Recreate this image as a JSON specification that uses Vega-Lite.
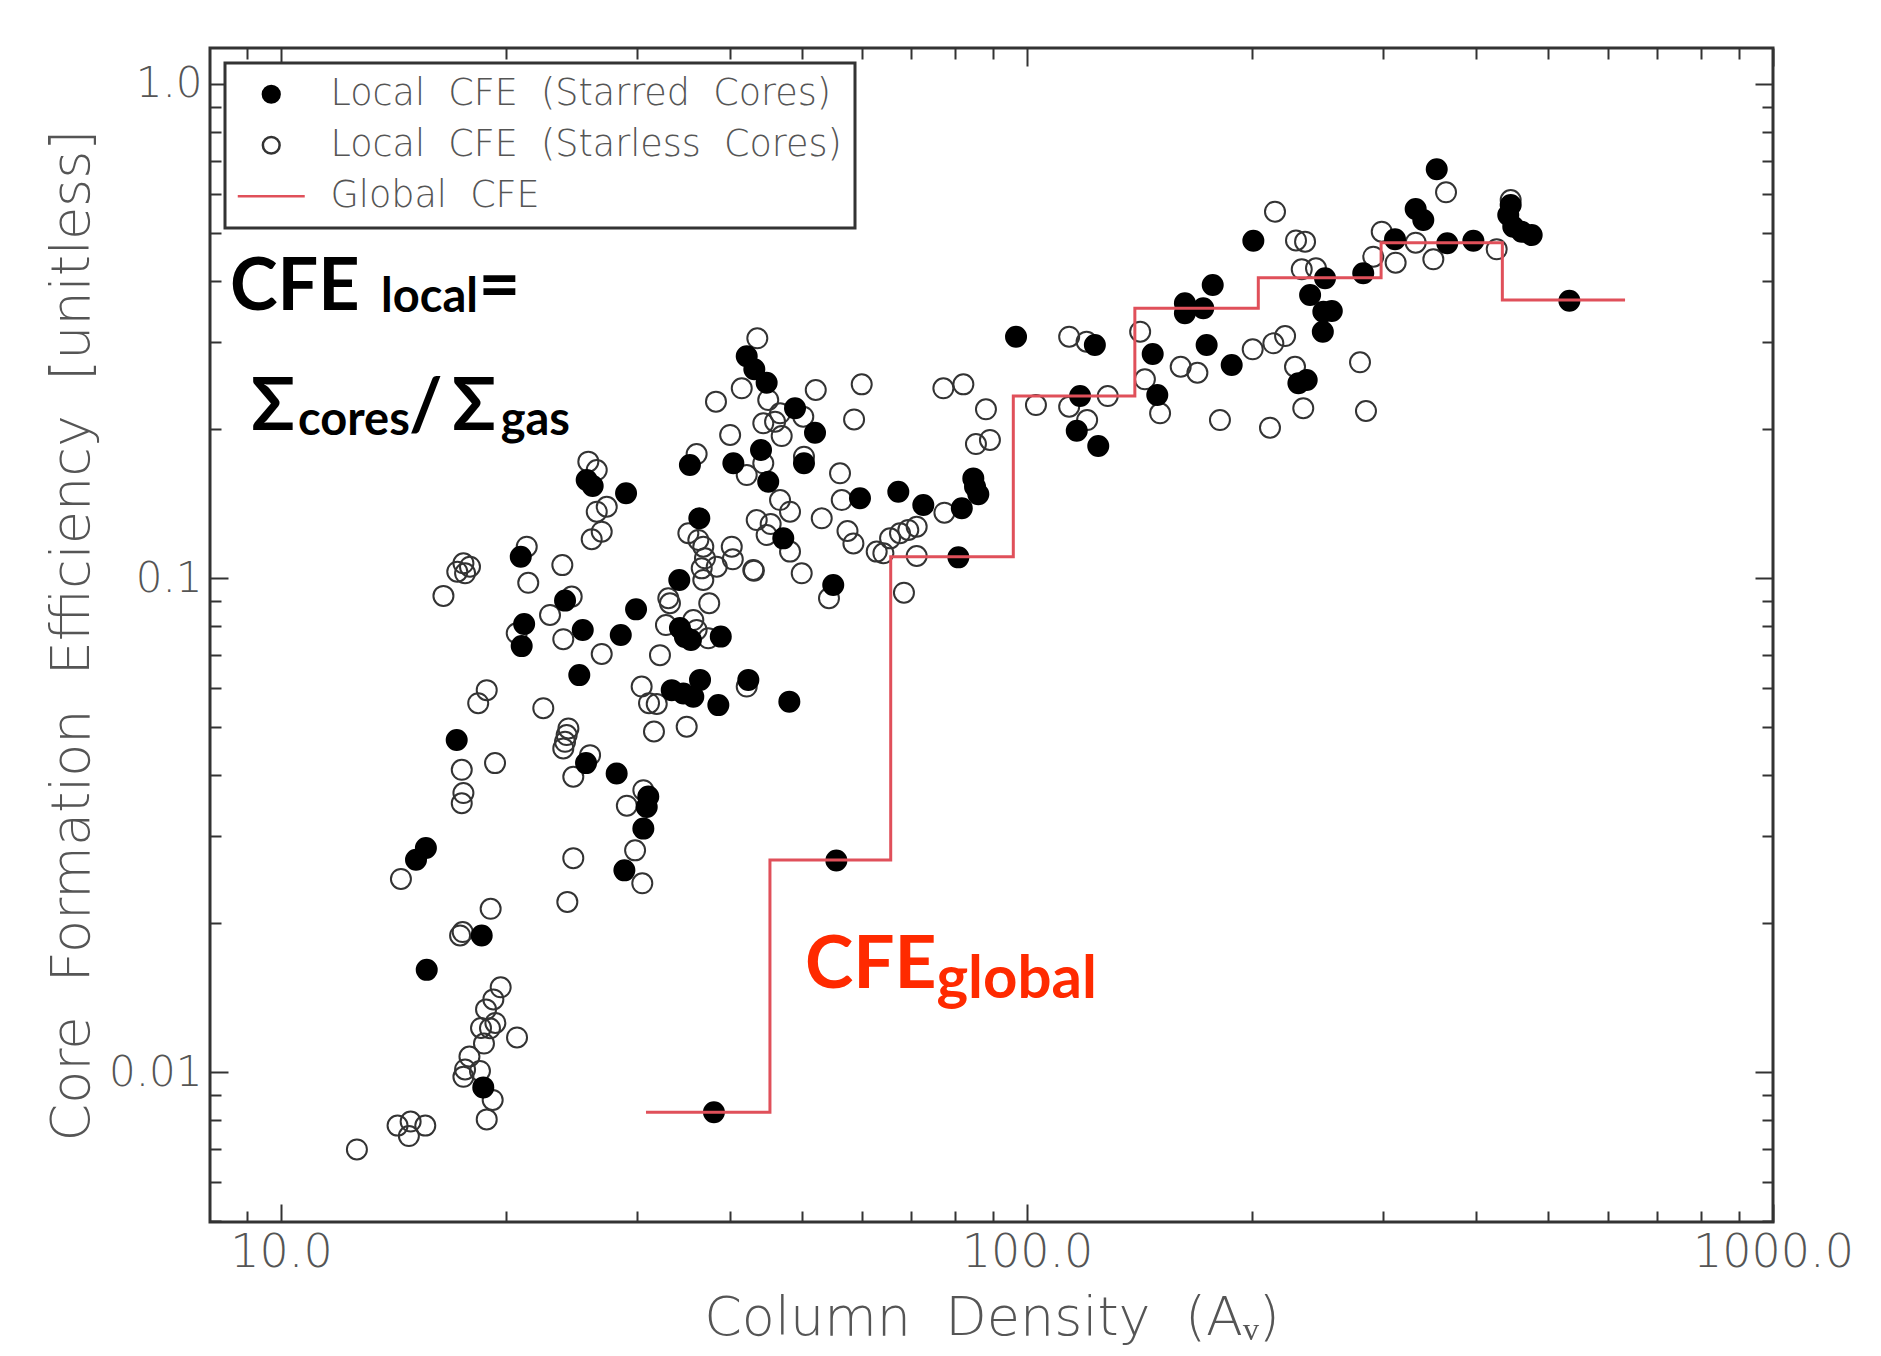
{
  "$schema": "https://vega.github.io/schema/vega-lite/v6.json",
  "width": 1563,
  "height": 1174,
  "autosize": {"type": "none"},
  "padding": {"left": 210, "top": 48, "right": 108, "bottom": 134},
  "background": "white",
  "config": {
    "view": {"stroke": "#333333", "strokeWidth": 3},
    "axis": {
      "domain": false, "grid": false,
      "tickColor": "#333333", "tickWidth": 2,
      "labelFont": "DejaVu Sans", "titleFont": "DejaVu Sans",
      "labelColor": "#555555", "titleColor": "#555555",
      "labelFontWeight": 300, "titleFontWeight": 300,
      "labelOverlap": false, "labelFlush": false, "labelBound": false
    },
    "legend": {
      "orient": "none", "legendX": 15, "legendY": 15,
      "padding": 13, "strokeColor": "#333333", "strokeWidth": 3, "fillColor": "white",
      "labelFont": "DejaVu Sans", "labelFontSize": 36.5, "labelColor": "#555555", "labelFontWeight": 300,
      "labelLimit": 2000, "symbolSize": 1122, "symbolStrokeWidth": 2.5,
      "symbolOffset": 15, "labelOffset": 41, "rowPadding": 14
    }
  },
  "datasets": {
    "cores": [
      {"av":12.64,"cfe":0.00697,"kind":"starless"},{"av":14.33,"cfe":0.00779,"kind":"starless"},{"av":14.92,"cfe":0.00794,"kind":"starless"},{"av":15.61,"cfe":0.00779,"kind":"starless"},{"av":14.84,"cfe":0.00742,"kind":"starless"},
      {"av":19.70,"cfe":0.01484,"kind":"starless"},{"av":19.26,"cfe":0.01403,"kind":"starless"},{"av":18.83,"cfe":0.01339,"kind":"starless"},{"av":19.38,"cfe":0.01257,"kind":"starless"},{"av":18.54,"cfe":0.01228,"kind":"starless"},
      {"av":19.06,"cfe":0.01226,"kind":"starless"},{"av":18.71,"cfe":0.01142,"kind":"starless"},{"av":17.89,"cfe":0.01075,"kind":"starless"},{"av":17.65,"cfe":0.01012,"kind":"starless"},{"av":17.56,"cfe":0.00978,"kind":"starless"},
      {"av":18.48,"cfe":0.01005,"kind":"starless"},{"av":19.22,"cfe":0.00878,"kind":"starless"},{"av":18.87,"cfe":0.00802,"kind":"starless"},{"av":20.72,"cfe":0.01175,"kind":"starless"},{"av":17.47,"cfe":0.0350,"kind":"starless"},
      {"av":29.08,"cfe":0.0346,"kind":"starless"},{"av":29.83,"cfe":0.0281,"kind":"starless"},{"av":30.50,"cfe":0.0241,"kind":"starless"},{"av":14.48,"cfe":0.0246,"kind":"starless"},{"av":24.65,"cfe":0.0271,"kind":"starless"},
      {"av":24.20,"cfe":0.0221,"kind":"starless"},{"av":19.10,"cfe":0.0214,"kind":"starless"},{"av":17.52,"cfe":0.0192,"kind":"starless"},{"av":17.38,"cfe":0.0189,"kind":"starless"},{"av":43.50,"cfe":0.3056,"kind":"starless"},
      {"av":41.46,"cfe":0.2421,"kind":"starless"},{"av":52.10,"cfe":0.2402,"kind":"starless"},{"av":38.29,"cfe":0.2275,"kind":"starless"},{"av":44.99,"cfe":0.2293,"kind":"starless"},{"av":46.66,"cfe":0.2155,"kind":"starless"},
      {"av":50.13,"cfe":0.2121,"kind":"starless"},{"av":44.31,"cfe":0.2057,"kind":"starless"},{"av":45.95,"cfe":0.2072,"kind":"starless"},{"av":58.64,"cfe":0.2094,"kind":"starless"},{"av":46.90,"cfe":0.1938,"kind":"starless"},
      {"av":40.0,"cfe":0.1948,"kind":"starless"},{"av":36.07,"cfe":0.1782,"kind":"starless"},{"av":50.24,"cfe":0.176,"kind":"starless"},{"av":44.31,"cfe":0.1707,"kind":"starless"},{"av":42.10,"cfe":0.1616,"kind":"starless"},
      {"av":56.15,"cfe":0.1629,"kind":"starless"},{"av":56.45,"cfe":0.1438,"kind":"starless"},{"av":46.66,"cfe":0.1438,"kind":"starless"},{"av":48.12,"cfe":0.1362,"kind":"starless"},{"av":53.07,"cfe":0.1321,"kind":"starless"},
      {"av":43.42,"cfe":0.131,"kind":"starless"},{"av":45.33,"cfe":0.1286,"kind":"starless"},{"av":44.77,"cfe":0.1222,"kind":"starless"},{"av":48.12,"cfe":0.1131,"kind":"starless"},{"av":57.46,"cfe":0.1245,"kind":"starless"},
      {"av":58.52,"cfe":0.1175,"kind":"starless"},{"av":43.05,"cfe":0.1035,"kind":"starless"},{"av":49.89,"cfe":0.1022,"kind":"starless"},{"av":54.27,"cfe":0.0910,"kind":"starless"},{"av":25.82,"cfe":0.172,"kind":"starless"},
      {"av":26.50,"cfe":0.1654,"kind":"starless"},{"av":27.33,"cfe":0.1394,"kind":"starless"},{"av":26.50,"cfe":0.1362,"kind":"starless"},{"av":26.91,"cfe":0.1241,"kind":"starless"},{"av":26.09,"cfe":0.1198,"kind":"starless"},
      {"av":21.35,"cfe":0.1157,"kind":"starless"},{"av":23.83,"cfe":0.1062,"kind":"starless"},{"av":17.56,"cfe":0.1071,"kind":"starless"},{"av":17.23,"cfe":0.103,"kind":"starless"},{"av":17.65,"cfe":0.1022,"kind":"starless"},
      {"av":17.92,"cfe":0.1054,"kind":"starless"},{"av":21.45,"cfe":0.0978,"kind":"starless"},{"av":16.51,"cfe":0.0920,"kind":"starless"},{"av":24.53,"cfe":0.0917,"kind":"starless"},{"av":22.94,"cfe":0.0842,"kind":"starless"},
      {"av":20.70,"cfe":0.0773,"kind":"starless"},{"av":23.90,"cfe":0.0752,"kind":"starless"},{"av":26.91,"cfe":0.0702,"kind":"starless"},{"av":35.16,"cfe":0.1232,"kind":"starless"},{"av":36.26,"cfe":0.1194,"kind":"starless"},
      {"av":36.82,"cfe":0.1157,"kind":"starless"},{"av":40.20,"cfe":0.1157,"kind":"starless"},{"av":37.01,"cfe":0.1096,"kind":"starless"},{"av":40.33,"cfe":0.1091,"kind":"starless"},{"av":38.38,"cfe":0.1054,"kind":"starless"},
      {"av":36.64,"cfe":0.1046,"kind":"starless"},{"av":36.82,"cfe":0.0991,"kind":"starless"},{"av":42.96,"cfe":0.1038,"kind":"starless"},{"av":33.05,"cfe":0.0910,"kind":"starless"},{"av":33.22,"cfe":0.0889,"kind":"starless"},
      {"av":37.50,"cfe":0.0889,"kind":"starless"},{"av":32.81,"cfe":0.0803,"kind":"starless"},{"av":35.70,"cfe":0.0822,"kind":"starless"},{"av":36.07,"cfe":0.0785,"kind":"starless"},{"av":37.39,"cfe":0.0755,"kind":"starless"},
      {"av":32.21,"cfe":0.0698,"kind":"starless"},{"av":30.44,"cfe":0.0603,"kind":"starless"},{"av":31.14,"cfe":0.0558,"kind":"starless"},{"av":31.89,"cfe":0.0556,"kind":"starless"},{"av":34.98,"cfe":0.0500,"kind":"starless"},
      {"av":31.62,"cfe":0.0489,"kind":"starless"},{"av":42.10,"cfe":0.0603,"kind":"starless"},{"av":18.87,"cfe":0.0593,"kind":"starless"},{"av":18.38,"cfe":0.0558,"kind":"starless"},{"av":22.47,"cfe":0.0545,"kind":"starless"},
      {"av":24.28,"cfe":0.0496,"kind":"starless"},{"av":24.15,"cfe":0.0481,"kind":"starless"},{"av":24.03,"cfe":0.0466,"kind":"starless"},{"av":23.90,"cfe":0.0452,"kind":"starless"},{"av":25.96,"cfe":0.0438,"kind":"starless"},
      {"av":24.65,"cfe":0.0396,"kind":"starless"},{"av":30.60,"cfe":0.0372,"kind":"starless"},{"av":17.47,"cfe":0.0409,"kind":"starless"},{"av":19.36,"cfe":0.0422,"kind":"starless"},{"av":17.56,"cfe":0.0367,"kind":"starless"},
      {"av":215.0,"cfe":0.5514,"kind":"starless"},{"av":229.4,"cfe":0.4822,"kind":"starless"},{"av":113.9,"cfe":0.3079,"kind":"starless"},{"av":120.2,"cfe":0.3008,"kind":"starless"},{"av":141.8,"cfe":0.3152,"kind":"starless"},
      {"av":200.7,"cfe":0.2904,"kind":"starless"},{"av":213.9,"cfe":0.2986,"kind":"starless"},{"av":221.8,"cfe":0.3089,"kind":"starless"},{"av":160.7,"cfe":0.2677,"kind":"starless"},{"av":169.2,"cfe":0.2603,"kind":"starless"},
      {"av":143.9,"cfe":0.2525,"kind":"starless"},{"av":150.8,"cfe":0.2155,"kind":"starless"},{"av":181.4,"cfe":0.2088,"kind":"starless"},{"av":211.7,"cfe":0.2015,"kind":"starless"},{"av":228.7,"cfe":0.2677,"kind":"starless"},
      {"av":234.6,"cfe":0.2206,"kind":"starless"},{"av":128.3,"cfe":0.2335,"kind":"starless"},{"av":113.9,"cfe":0.2222,"kind":"starless"},{"av":102.8,"cfe":0.2239,"kind":"starless"},{"av":120.4,"cfe":0.2088,"kind":"starless"},
      {"av":77.25,"cfe":0.2421,"kind":"starless"},{"av":82.17,"cfe":0.2466,"kind":"starless"},{"av":88.10,"cfe":0.2195,"kind":"starless"},{"av":89.19,"cfe":0.1903,"kind":"starless"},{"av":85.42,"cfe":0.1867,"kind":"starless"},
      {"av":60.04,"cfe":0.2466,"kind":"starless"},{"av":77.50,"cfe":0.1356,"kind":"starless"},{"av":62.88,"cfe":0.1131,"kind":"starless"},{"av":64.19,"cfe":0.1122,"kind":"starless"},{"av":65.53,"cfe":0.1203,"kind":"starless"},
      {"av":67.57,"cfe":0.1232,"kind":"starless"},{"av":69.32,"cfe":0.1251,"kind":"starless"},{"av":71.14,"cfe":0.127,"kind":"starless"},{"av":71.14,"cfe":0.1108,"kind":"starless"},{"av":68.40,"cfe":0.0934,"kind":"starless"},
      {"av":364.5,"cfe":0.6037,"kind":"starless"},{"av":445.0,"cfe":0.5823,"kind":"starless"},{"av":235.9,"cfe":0.4796,"kind":"starless"},{"av":298.9,"cfe":0.5023,"kind":"starless"},{"av":331.9,"cfe":0.4773,"kind":"starless"},
      {"av":426.2,"cfe":0.4628,"kind":"starless"},{"av":291.2,"cfe":0.4471,"kind":"starless"},{"av":312.0,"cfe":0.4348,"kind":"starless"},{"av":350.5,"cfe":0.4417,"kind":"starless"},{"av":233.5,"cfe":0.4216,"kind":"starless"},
      {"av":244.0,"cfe":0.4236,"kind":"starless"},{"av":279.5,"cfe":0.2733,"kind":"starless"},{"av":284.7,"cfe":0.2178,"kind":"starless"},
      {"av":18.67,"cfe":0.00931,"kind":"starred"},{"av":30.92,"cfe":0.0344,"kind":"starred"},{"av":30.60,"cfe":0.0311,"kind":"starred"},{"av":28.86,"cfe":0.0256,"kind":"starred"},{"av":15.64,"cfe":0.0284,"kind":"starred"},
      {"av":15.17,"cfe":0.0269,"kind":"starred"},{"av":18.58,"cfe":0.0189,"kind":"starred"},{"av":15.68,"cfe":0.0161,"kind":"starred"},{"av":38.05,"cfe":0.00829,"kind":"starred"},{"av":42.10,"cfe":0.281,"kind":"starred"},
      {"av":43.10,"cfe":0.2645,"kind":"starred"},{"av":44.77,"cfe":0.2485,"kind":"starred"},{"av":48.87,"cfe":0.2206,"kind":"starred"},{"av":51.98,"cfe":0.1968,"kind":"starred"},{"av":44.0,"cfe":0.1816,"kind":"starred"},
      {"av":35.33,"cfe":0.1693,"kind":"starred"},{"av":40.40,"cfe":0.1707,"kind":"starred"},{"av":50.24,"cfe":0.1707,"kind":"starred"},{"av":44.99,"cfe":0.1566,"kind":"starred"},{"av":47.13,"cfe":0.1203,"kind":"starred"},
      {"av":54.99,"cfe":0.0968,"kind":"starred"},{"av":25.69,"cfe":0.1579,"kind":"starred"},{"av":26.17,"cfe":0.1535,"kind":"starred"},{"av":29.01,"cfe":0.1484,"kind":"starred"},{"av":20.96,"cfe":0.1104,"kind":"starred"},
      {"av":24.03,"cfe":0.0900,"kind":"starred"},{"av":21.18,"cfe":0.0807,"kind":"starred"},{"av":21.02,"cfe":0.0728,"kind":"starred"},{"av":25.38,"cfe":0.0785,"kind":"starred"},{"av":28.54,"cfe":0.0767,"kind":"starred"},
      {"av":29.92,"cfe":0.0864,"kind":"starred"},{"av":25.11,"cfe":0.0636,"kind":"starred"},{"av":36.37,"cfe":0.1321,"kind":"starred"},{"av":34.19,"cfe":0.0991,"kind":"starred"},{"av":34.26,"cfe":0.0792,"kind":"starred"},
      {"av":34.79,"cfe":0.0760,"kind":"starred"},{"av":35.44,"cfe":0.0749,"kind":"starred"},{"av":38.86,"cfe":0.0761,"kind":"starred"},{"av":33.40,"cfe":0.0593,"kind":"starred"},{"av":34.62,"cfe":0.0584,"kind":"starred"},
      {"av":35.70,"cfe":0.0575,"kind":"starred"},{"av":36.45,"cfe":0.0622,"kind":"starred"},{"av":38.57,"cfe":0.0553,"kind":"starred"},{"av":42.31,"cfe":0.0622,"kind":"starred"},{"av":48.02,"cfe":0.0562,"kind":"starred"},
      {"av":25.64,"cfe":0.0422,"kind":"starred"},{"av":28.18,"cfe":0.0402,"kind":"starred"},{"av":31.07,"cfe":0.0361,"kind":"starred"},{"av":17.20,"cfe":0.0470,"kind":"starred"},{"av":201.1,"cfe":0.4818,"kind":"starred"},
      {"av":177.4,"cfe":0.3918,"kind":"starred"},{"av":162.8,"cfe":0.3598,"kind":"starred"},{"av":162.8,"cfe":0.3434,"kind":"starred"},{"av":172.3,"cfe":0.3516,"kind":"starred"},{"av":96.67,"cfe":0.3079,"kind":"starred"},
      {"av":123.3,"cfe":0.2963,"kind":"starred"},{"av":147.4,"cfe":0.284,"kind":"starred"},{"av":174.1,"cfe":0.2963,"kind":"starred"},{"av":188.1,"cfe":0.2699,"kind":"starred"},{"av":149.5,"cfe":0.2346,"kind":"starred"},
      {"av":231.1,"cfe":0.2478,"kind":"starred"},{"av":237.1,"cfe":0.2517,"kind":"starred"},{"av":117.8,"cfe":0.2335,"kind":"starred"},{"av":116.6,"cfe":0.1987,"kind":"starred"},{"av":124.6,"cfe":0.185,"kind":"starred"},
      {"av":59.72,"cfe":0.145,"kind":"starred"},{"av":67.22,"cfe":0.1495,"kind":"starred"},{"av":72.61,"cfe":0.1405,"kind":"starred"},{"av":81.77,"cfe":0.1384,"kind":"starred"},{"av":84.73,"cfe":0.1591,"kind":"starred"},
      {"av":85.18,"cfe":0.153,"kind":"starred"},{"av":86.05,"cfe":0.1477,"kind":"starred"},{"av":80.91,"cfe":0.1101,"kind":"starred"},{"av":354.2,"cfe":0.672,"kind":"starred"},{"av":331.9,"cfe":0.5585,"kind":"starred"},
      {"av":339.8,"cfe":0.5305,"kind":"starred"},{"av":445.0,"cfe":0.5689,"kind":"starred"},{"av":441.7,"cfe":0.543,"kind":"starred"},{"av":448.6,"cfe":0.5141,"kind":"starred"},{"av":460.4,"cfe":0.5023,"kind":"starred"},
      {"av":474.8,"cfe":0.4946,"kind":"starred"},{"av":311.4,"cfe":0.485,"kind":"starred"},{"av":365.9,"cfe":0.476,"kind":"starred"},{"av":396.6,"cfe":0.4818,"kind":"starred"},{"av":250.9,"cfe":0.4044,"kind":"starred"},
      {"av":282.3,"cfe":0.4139,"kind":"starred"},{"av":239.6,"cfe":0.3741,"kind":"starred"},{"av":249.6,"cfe":0.346,"kind":"starred"},{"av":256.2,"cfe":0.3471,"kind":"starred"},{"av":249.2,"cfe":0.3152,"kind":"starred"},
      {"av":533.4,"cfe":0.3641,"kind":"starred"},{"av":55.52,"cfe":0.0268,"kind":"starred"}
    ],
    "global": [
      {"av":30.85,"cfe":0.00829,"kind":"global"},{"av":45.23,"cfe":0.02686,"kind":"global"},{"av":65.66,"cfe":0.1104,"kind":"global"},
      {"av":95.86,"cfe":0.2335,"kind":"global"},{"av":139.5,"cfe":0.3516,"kind":"global"},{"av":204.2,"cfe":0.4055,"kind":"global"},
      {"av":298.3,"cfe":0.4773,"kind":"global"},{"av":433.7,"cfe":0.3653,"kind":"global"},{"av":633.4,"cfe":0.3653,"kind":"global"}
    ],
    "notes": [
      {"av":8.543,"cfe":0.3487,"label":"CFE","part":"main"},
      {"av":13.62,"cfe":0.3454,"label":"local","part":"sub"},
      {"av":18.40,"cfe":0.3487,"label":"=","part":"main"},
      {"av":9.117,"cfe":0.1993,"label":"Σ","part":"main"},
      {"av":10.54,"cfe":0.1948,"label":"cores","part":"sub"},
      {"av":14.85,"cfe":0.1993,"label":"/","part":"main"},
      {"av":16.95,"cfe":0.1993,"label":"Σ","part":"main"},
      {"av":19.70,"cfe":0.1948,"label":"gas","part":"sub"},
      {"av":50.4,"cfe":0.01479,"label":"CFE","part":"globalMain"},
      {"av":75.6,"cfe":0.01412,"label":"global","part":"globalSub"}
    ]
  },
  "resolve": {"axis": {"x": "independent", "y": "independent"}},
  "layer": [
    {
      "data": {"name": "cores"},
      "mark": {"type": "point", "opacity": 1, "size": 1600, "strokeWidth": 2},
      "encoding": {
        "x": {"field": "av", "type": "quantitative", "scale": {"type": "log", "domain": [8.032, 1000], "nice": false},
          "axis": {"orient": "bottom", "values": [10, 100, 1000], "format": ".1f", "ticks": false, "labelFontSize": 46, "labelPadding": 8,
            "title": "Column\u00a0\u00a0Density\u00a0\u00a0(Aᵥ)", "titleFontSize": 54, "titlePadding": 16}},
        "y": {"field": "cfe", "type": "quantitative", "scale": {"type": "log", "domain": [0.004971, 1.1826], "nice": false},
          "axis": {"orient": "left", "values": [0.01, 0.1, 1], "labelExpr": "datum.value > 0.5 ? '1.0' : datum.value > 0.05 ? '0.1' : '0.01'",
            "ticks": false, "labelFontSize": 42, "labelPadding": 8,
            "title": "Core\u00a0\u00a0Formation\u00a0\u00a0Efficiency\u00a0\u00a0[unitless]", "titleFontSize": 54, "titlePadding": 9}},
        "shape": {"field": "kind", "type": "nominal",
          "scale": {"domain": ["starred", "starless", "global"], "range": ["M-0.5,0A0.5,0.5,0,1,1,0.5,0A0.5,0.5,0,1,1,-0.5,0Z", "M-0.5,0A0.5,0.5,0,1,1,0.5,0A0.5,0.5,0,1,1,-0.5,0Z", "M-2,0L2,0"]},
          "legend": {"title": null, "labelExpr": "datum.value == 'starred' ? 'Local\u00a0\u00a0CFE\u00a0\u00a0(Starred\u00a0\u00a0Cores)' : datum.value == 'starless' ? 'Local\u00a0\u00a0CFE\u00a0\u00a0(Starless\u00a0\u00a0Cores)' : 'Global\u00a0\u00a0CFE'"}},
        "fill": {"field": "kind", "type": "nominal",
          "scale": {"domain": ["starred", "starless", "global"], "range": ["#000000", "transparent", "transparent"]},
          "legend": {"title": null, "labelExpr": "datum.value == 'starred' ? 'Local\u00a0\u00a0CFE\u00a0\u00a0(Starred\u00a0\u00a0Cores)' : datum.value == 'starless' ? 'Local\u00a0\u00a0CFE\u00a0\u00a0(Starless\u00a0\u00a0Cores)' : 'Global\u00a0\u00a0CFE'"}},
        "stroke": {"field": "kind", "type": "nominal",
          "scale": {"domain": ["starred", "starless", "global"], "range": ["#000000", "#333333", "#e0505a"]},
          "legend": {"title": null, "labelExpr": "datum.value == 'starred' ? 'Local\u00a0\u00a0CFE\u00a0\u00a0(Starred\u00a0\u00a0Cores)' : datum.value == 'starless' ? 'Local\u00a0\u00a0CFE\u00a0\u00a0(Starless\u00a0\u00a0Cores)' : 'Global\u00a0\u00a0CFE'"}}
      }
    },
    {
      "data": {"name": "global"},
      "mark": {"type": "line", "interpolate": "step-after", "strokeWidth": 3},
      "encoding": {
        "x": {"field": "av", "type": "quantitative", "scale": {"type": "log", "domain": [8.032, 1000], "nice": false},
          "axis": {"orient": "bottom", "values": [10, 100, 1000], "labels": false, "title": null, "tickSize": -18}},
        "y": {"field": "cfe", "type": "quantitative", "scale": {"type": "log", "domain": [0.004971, 1.1826], "nice": false},
          "axis": {"orient": "left", "values": [0.01, 0.1, 1], "labels": false, "title": null, "tickSize": -18}},
        "stroke": {"field": "kind", "type": "nominal",
          "scale": {"domain": ["starred", "starless", "global"], "range": ["#000000", "#333333", "#e0505a"]},
          "legend": {"title": null, "labelExpr": "datum.value == 'starred' ? 'Local\u00a0\u00a0CFE\u00a0\u00a0(Starred\u00a0\u00a0Cores)' : datum.value == 'starless' ? 'Local\u00a0\u00a0CFE\u00a0\u00a0(Starless\u00a0\u00a0Cores)' : 'Global\u00a0\u00a0CFE'"}}
      }
    },
    {
      "data": {"name": "notes"},
      "transform": [{"filter": "datum.part == 'main'"}],
      "mark": {"type": "text", "align": "left", "baseline": "alphabetic", "font": "Lato", "fontWeight": "bold", "fontSize": 72, "color": "#000000"},
      "encoding": {
        "x": {"field": "av", "type": "quantitative", "scale": {"type": "log", "domain": [8.032, 1000], "nice": false},
          "axis": {"orient": "bottom", "values": [9, 20, 30, 40, 50, 60, 70, 80, 90, 200, 300, 400, 500, 600, 700, 800, 900], "labels": false, "title": null, "tickSize": -11}},
        "y": {"field": "cfe", "type": "quantitative", "scale": {"type": "log", "domain": [0.004971, 1.1826], "nice": false},
          "axis": {"orient": "left", "values": [0.005, 0.006, 0.007, 0.008, 0.009, 0.02, 0.03, 0.04, 0.05, 0.06, 0.07, 0.08, 0.09, 0.2, 0.3, 0.4, 0.5, 0.6, 0.7, 0.8, 0.9], "labels": false, "title": null, "tickSize": -11}},
        "text": {"field": "label"}
      }
    },
    {
      "data": {"name": "notes"},
      "transform": [{"filter": "datum.part == 'sub'"}],
      "mark": {"type": "text", "align": "left", "baseline": "alphabetic", "font": "Lato", "fontWeight": "bold", "fontSize": 47, "color": "#000000"},
      "encoding": {
        "x": {"field": "av", "type": "quantitative", "scale": {"type": "log", "domain": [8.032, 1000], "nice": false},
          "axis": {"orient": "top", "values": [10, 100, 1000], "labels": false, "title": null, "tickSize": -18}},
        "y": {"field": "cfe", "type": "quantitative", "scale": {"type": "log", "domain": [0.004971, 1.1826], "nice": false},
          "axis": {"orient": "right", "values": [0.01, 0.1, 1], "labels": false, "title": null, "tickSize": -18}},
        "text": {"field": "label"}
      }
    },
    {
      "data": {"name": "notes"},
      "transform": [{"filter": "datum.part == 'globalMain'"}],
      "mark": {"type": "text", "align": "left", "baseline": "alphabetic", "font": "Lato", "fontWeight": "bold", "fontSize": 73, "color": "#ff2a00"},
      "encoding": {
        "x": {"field": "av", "type": "quantitative", "scale": {"type": "log", "domain": [8.032, 1000], "nice": false},
          "axis": {"orient": "top", "values": [9, 20, 30, 40, 50, 60, 70, 80, 90, 200, 300, 400, 500, 600, 700, 800, 900], "labels": false, "title": null, "tickSize": -11}},
        "y": {"field": "cfe", "type": "quantitative", "scale": {"type": "log", "domain": [0.004971, 1.1826], "nice": false},
          "axis": {"orient": "right", "values": [0.005, 0.006, 0.007, 0.008, 0.009, 0.02, 0.03, 0.04, 0.05, 0.06, 0.07, 0.08, 0.09, 0.2, 0.3, 0.4, 0.5, 0.6, 0.7, 0.8, 0.9], "labels": false, "title": null, "tickSize": -11}},
        "text": {"field": "label"}
      }
    },
    {
      "data": {"name": "notes"},
      "transform": [{"filter": "datum.part == 'globalSub'"}],
      "mark": {"type": "text", "align": "left", "baseline": "alphabetic", "font": "Lato", "fontWeight": "bold", "fontSize": 60, "color": "#ff2a00"},
      "encoding": {
        "x": {"field": "av", "type": "quantitative", "scale": {"type": "log", "domain": [8.032, 1000], "nice": false}, "axis": null},
        "y": {"field": "cfe", "type": "quantitative", "scale": {"type": "log", "domain": [0.004971, 1.1826], "nice": false}, "axis": null},
        "text": {"field": "label"}
      }
    }
  ]
}
